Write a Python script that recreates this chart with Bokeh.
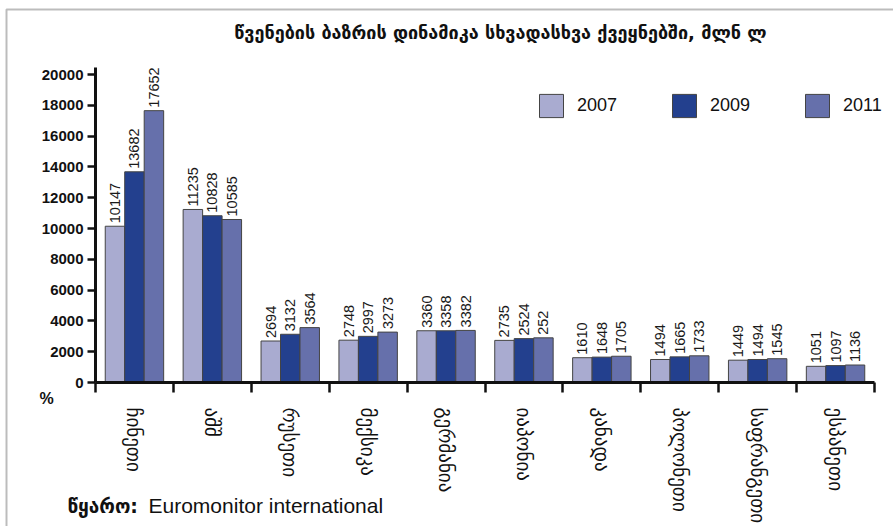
from math import pi
from bokeh.plotting import figure
from bokeh.models import (ColumnDataSource, Range1d, LinearAxis, FixedTicker,
                          Legend, LegendItem, Label, BoxAnnotation)
from bokeh.transform import dodge
from bokeh.core.properties import value
from bokeh.embed import file_html
from bokeh.resources import INLINE

# ---------------- data ----------------
title_text = "წვენების ბაზრის დინამიკა სხვადასხვა ქვეყნებში, მლნ ლ"
source_label = "წყარო:"
source_name = "Euromonitor international"
unit_label = "%"
countries = ["ჩინეთი", "აშშ", "რუსეთი", "მექსიკა", "გერმანია",
             "იაპონია", "კანადა", "პოლონეთი", "საფრანგეთი", "ესპანეთი"]
years = ["2007", "2009", "2011"]
v2007 = [10147, 11235, 2694, 2748, 3360, 2735, 1610, 1494, 1449, 1051]
v2009 = [13682, 10828, 3132, 2997, 3358, 2850, 1648, 1665, 1494, 1097]
v2011 = [17652, 10585, 3564, 3273, 3382, 2900, 1705, 1733, 1545, 1136]
lab2007 = ["10147", "11235", "2694", "2748", "3360", "2735", "1610", "1494", "1449", "1051"]
lab2009 = ["13682", "10828", "3132", "2997", "3358", "2524", "1648", "1665", "1494", "1097"]
lab2011 = ["17652", "10585", "3564", "3273", "3382", "252", "1705", "1733", "1545", "1136"]
y_ticks = [0, 2000, 4000, 6000, 8000, 10000, 12000, 14000, 16000, 18000, 20000]

colors = ["#a9abd0", "#23408e", "#6670ab"]
offsets = [-0.25, 0.0, 0.25]

# ---------------- layout (pixels on the canvas) ----------------
W, H = 893, 526
x0_px, x10_px = 95.0, 874.0      # category edges 0 and 10
y0_px, y20k_px = 382.0, 74.0     # value 0 and 20000
n = len(countries)
ppx = (x10_px - x0_px) / n
ppy = (y0_px - y20k_px) / 20000.0
x_start = -x0_px / ppx
x_end = n + (W - x10_px) / ppx
y_start = -(H - y0_px) / ppy
y_end = 20000 + y20k_px / ppy

centers = [i + 0.5 for i in range(n)]
edges = list(range(n + 1))

p = figure(width=W, height=H,
           x_range=Range1d(x_start, x_end), y_range=Range1d(y_start, y_end),
           output_backend="svg", toolbar_location=None,
           x_axis_location=None, y_axis_location=None,
           min_border=0, min_border_left=0, min_border_right=0,
           min_border_top=0, min_border_bottom=0)
p.outline_line_color = None
p.grid.visible = False
p.background_fill_color = "white"
p.border_fill_color = "white"

# y axis drawn at x = 0
ya = LinearAxis(fixed_location=0, bounds=(0, 20450),
                ticker=FixedTicker(ticks=y_ticks),
                axis_line_width=3, axis_line_color="#111111",
                major_tick_in=0, major_tick_out=8,
                major_tick_line_width=2.5, major_tick_line_color="#111111",
                minor_tick_line_color=None,
                major_label_text_font="Liberation Sans",
                major_label_text_font_style="bold",
                major_label_text_font_size="15px",
                major_label_text_color="#111111",
                major_label_standoff=4)
p.add_layout(ya, "left")

# x axis at y = 0: boundary ticks
tick_axis = LinearAxis(fixed_location=0, bounds=(0, n),
                       ticker=FixedTicker(ticks=edges),
                       axis_line_width=3, axis_line_color="#111111",
                       major_tick_in=0, major_tick_out=10,
                       major_tick_line_width=2.5, major_tick_line_color="#111111",
                       minor_tick_line_color=None,
                       major_label_text_font_size="1px",
                       major_label_text_color=None,
                       major_label_standoff=0)
p.add_layout(tick_axis, "below")
# category labels
cat_axis = LinearAxis(fixed_location=0,
                      ticker=FixedTicker(ticks=centers),
                      major_label_overrides={c: name for c, name in zip(centers, countries)},
                      axis_line_color=None, major_tick_line_color=None,
                      minor_tick_line_color=None,
                      major_label_orientation="vertical",
                      major_label_text_font="DejaVu Sans",
                      major_label_text_font_size="19px",
                      major_label_text_color="#111111",
                      major_label_standoff=19)
p.add_layout(cat_axis, "below")

# bars
items = []
for yr, vals, labs, col, off in zip(years, [v2007, v2009, v2011],
                                    [lab2007, lab2009, lab2011], colors, offsets):
    src = ColumnDataSource(dict(pos=centers, top=vals, label=labs))
    r = p.vbar(x=dodge("pos", off), top="top", bottom=0,
               width=0.25, source=src, fill_color=col,
               line_color="#444444", line_width=1)
    p.text(x=dodge("pos", off), y="top", text="label",
           source=src, angle=pi / 2, text_align="left", text_baseline="middle",
           y_offset=-3, text_font=value("Liberation Sans"),
           text_font_size="14.5px", text_color="#1a1a1a")
    items.append(LegendItem(label=yr, renderers=[r]))

legend = Legend(items=items, orientation="horizontal", location=(536, H - 120),
                glyph_width=30, glyph_height=29, label_standoff=11, spacing=52,
                padding=0, margin=0, border_line_color=None,
                background_fill_alpha=0, label_text_font="Liberation Sans",
                label_text_font_size="18px", label_text_color="#111111")
p.add_layout(legend)

# title, unit, source (screen units: from frame left / bottom)
p.add_layout(Label(x=500, y=H - 32, x_units="screen", y_units="screen",
                   text=title_text, text_align="center", text_baseline="middle",
                   text_font="DejaVu Sans", text_font_style="bold",
                   text_font_size="18px", text_color="#111111"))
p.add_layout(Label(x=46, y=H - 398, x_units="screen", y_units="screen",
                   text=unit_label, text_align="center", text_baseline="middle",
                   text_font="Liberation Sans", text_font_style="bold",
                   text_font_size="16px", text_color="#111111"))
p.add_layout(Label(x=67, y=H - 505, x_units="screen", y_units="screen",
                   text=source_label, text_align="left", text_baseline="middle",
                   text_font="DejaVu Sans", text_font_style="bold",
                   text_font_size="19px", text_color="#111111"))
p.add_layout(Label(x=148, y=H - 505, x_units="screen", y_units="screen",
                   text=source_name, text_align="left", text_baseline="middle",
                   text_font="Liberation Sans", text_font_size="21px",
                   text_color="#111111"))

# frame border (top and left visible)
p.add_layout(BoxAnnotation(left=6, right=W + 50, top=H - 9, bottom=-50,
                           left_units="screen", right_units="screen",
                           top_units="screen", bottom_units="screen",
                           fill_color=None, fill_alpha=0,
                           line_color="#222222", line_width=2))

open("out.html", "w").write(file_html(p, INLINE))
